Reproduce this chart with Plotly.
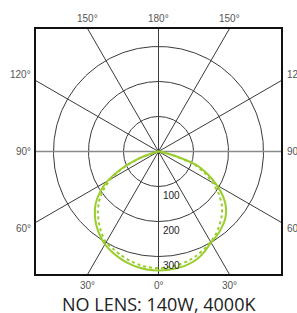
import numpy as np
import plotly.graph_objects as go

# ---- data (candela-like intensities) ----
gamma = [0, 5, 10, 15, 20, 25, 30, 35, 40, 45, 50, 55, 60, 65, 70, 75, 80, 85, 90]
solid_right = [340, 339, 337, 333, 326, 314, 300, 292, 282, 270, 252, 226, 192, 156, 118, 50, 12, 3, 0]
solid_left = [340, 339, 336, 331, 324, 316, 306, 292, 276, 257, 235, 205, 168, 118, 62, 14, 3, 1, 0]
dotted_right = [333, 332, 329, 324, 317, 308, 298, 287, 272, 256, 236, 210, 178, 146, 110, 46, 12, 3, 0]
dotted_left = [333, 332, 328, 322, 315, 307, 300, 284, 265, 245, 222, 193, 158, 112, 60, 14, 3, 1, 0]

rings = [100, 200, 300]
ring_labels = ["100", "200", "300"]
spoke_angles = [0, 30, 60, 90, 120, 150]
angle_labels_top = ["150°", "180°", "150°"]
angle_labels_side = ["120°", "90°", "60°"]
angle_labels_bottom = ["30°", "0°", "30°"]
title_text = "NO LENS: 140W, 4000K"

R = 350  # half-width of the square frame in intensity units
GREEN = "#9ACD2E"
GRID = "#3a3a3a"

def to_xy(angles, values):
    a = np.radians(np.asarray(angles, dtype=float))
    v = np.asarray(values, dtype=float)
    return v * np.sin(a), -v * np.cos(a)

def full_curve(left, right):
    ang = [-g for g in gamma[::-1]] + gamma[1:]
    val = left[::-1] + right[1:]
    return to_xy(ang, val)

fig = go.Figure()

# rings
th = np.linspace(0, 360, 361)
for r in rings:
    x, y = to_xy(th, [r] * len(th))
    fig.add_trace(go.Scatter(x=x, y=y, mode="lines",
                             line=dict(color=GRID, width=1), hoverinfo="skip"))

# spokes (full lines through the centre, clipped by the frame)
for a in spoke_angles:
    x, y = to_xy([a, a + 180], [2 * R, 2 * R])
    col = "#8a8a8a" if a == 90 else GRID
    w = 1.6 if a == 90 else 1
    fig.add_trace(go.Scatter(x=x, y=y, mode="lines",
                             line=dict(color=col, width=w), hoverinfo="skip"))

# photometric curves
xs, ys = full_curve(solid_left, solid_right)
fig.add_trace(go.Scatter(x=xs, y=ys, mode="lines",
                         line=dict(color=GREEN, width=2, shape="spline", smoothing=0.6)))
xd, yd = full_curve(dotted_left, dotted_right)
fig.add_trace(go.Scatter(x=xd, y=yd, mode="lines",
                         line=dict(color=GREEN, width=2, dash="dot", shape="spline", smoothing=0.6)))

ann = []
lab_font = dict(family="Liberation Sans, Arial", size=10, color="#555555")
t30 = R * np.tan(np.radians(30))
# top labels
for xv, txt in zip([-t30, 0, t30], angle_labels_top):
    ann.append(dict(x=xv, y=R, text=txt, showarrow=False, font=lab_font,
                    xanchor="center", yanchor="middle", yshift=11))
# bottom labels
for xv, txt in zip([-t30, 0, t30], angle_labels_bottom):
    ann.append(dict(x=xv, y=-R, text=txt, showarrow=False, font=lab_font,
                    xanchor="center", yanchor="middle", yshift=-11))
# side labels
for yv, txt in zip([t30 + 17, 0, -t30 - 17], angle_labels_side):
    ann.append(dict(x=-R, y=yv, text=txt, showarrow=False, font=lab_font,
                    xanchor="right", yanchor="middle", xshift=-3))
    ann.append(dict(x=R, y=yv, text=txt, showarrow=False, font=lab_font,
                    xanchor="left", yanchor="middle", xshift=4))
# ring labels
for r, txt in zip(rings, ring_labels):
    ann.append(dict(x=0, y=-r, text=txt, showarrow=False,
                    font=dict(family="Liberation Sans, Arial", size=10, color="#222222"),
                    xanchor="left", yanchor="top", xshift=2, yshift=-1))
# title
ann.append(dict(x=0, y=-R, text=title_text, showarrow=False,
                font=dict(family="Open Sans", size=18, color="#222222"),
                xanchor="center", yanchor="middle", yshift=-30))

fig.update_layout(
    width=297, height=313,
    margin=dict(l=36, r=16, t=29, b=39),
    paper_bgcolor="white", plot_bgcolor="white",
    showlegend=False,
    annotations=ann,
    xaxis=dict(range=[-R, R], showgrid=False, zeroline=False, showticklabels=False,
               ticks="", showline=True, mirror=True, linecolor="#111111", linewidth=1.6,
               fixedrange=True),
    yaxis=dict(range=[-R, R], showgrid=False, zeroline=False, showticklabels=False,
               ticks="", showline=True, mirror=True, linecolor="#111111", linewidth=1.6,
               fixedrange=True),
)

fig.write_html("out.html",
               config={"displayModeBar": False, "staticPlot": True},
               post_script="document.body.style.margin='0';document.body.style.overflow='hidden';")
